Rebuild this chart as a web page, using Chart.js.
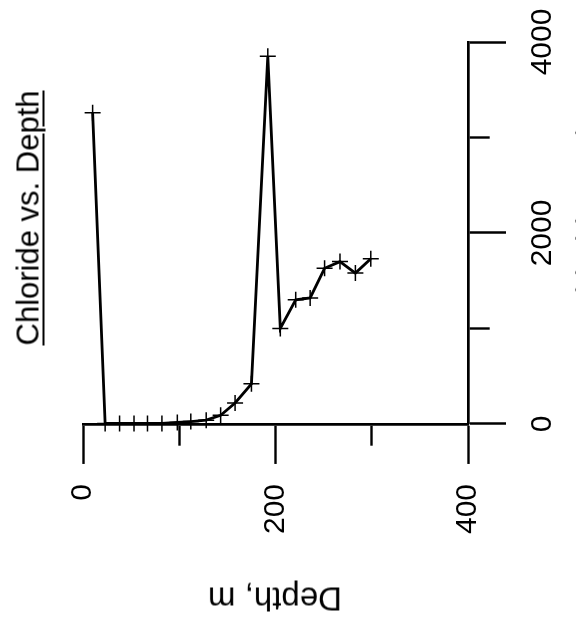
<!DOCTYPE html>
<html>
<head>
<meta charset="utf-8">
<script src="https://cdn.jsdelivr.net/npm/chart.js@4.4.1/dist/chart.umd.min.js"></script>
<style>
    html, body { margin: 0; padding: 0; background: #fff; }
    #wrap { position: relative; width: 576px; height: 621px; overflow: hidden; }
    .lbl {
        position: absolute;
        font-family: 'Liberation Sans', Arial, sans-serif;
        font-size: 31px;
        line-height: 31px;
        white-space: nowrap;
        color: #000;
    }
    #title {
        left: 28px; top: 218px;
        transform: translate(-50%, -50%) rotate(-90deg);
        text-decoration: underline;
        text-decoration-thickness: 2px;
        text-underline-offset: 4px;
    }
    #xtitle {
        left: 275px; top: 599px;
        font-size: 33px;
        line-height: 33px;
        transform: translate(-50%, -50%) rotate(180deg);
    }
    #ytitle {
        left: 588px; top: 215px;
        transform: translate(-50%, -50%) rotate(-90deg);
    }
</style>
</head>
<body>
<div id="wrap">
    <canvas id="grafico" width="576" height="621"></canvas>
    <div class="lbl" id="title">Chloride vs. Depth</div>
    <div class="lbl" id="xtitle">Depth, m</div>
    <div class="lbl" id="ytitle">Chloride, mg/L</div>
</div>
<script>
// Dados
const depth = [10, 23, 38, 53, 67, 82, 98, 112, 128, 143, 158, 175, 192, 205, 221, 236, 251, 267, 283, 299];
const chloride = [3260, 5, 5, 5, 5, 5, 15, 25, 40, 90, 220, 420, 3850, 1000, 1300, 1320, 1630, 1700, 1580, 1730];

const depthTicks = [0, 100, 200, 300, 400];
const depthLabels = ['0', '', '200', '', '400'];
const chlorideTicks = [0, 1000, 2000, 3000, 4000];
const chlorideLabels = ['0', '', '2000', '', '4000'];

const fonte = "'Liberation Sans', Arial, sans-serif";

// marcas menores ficam mais curtas com um traço tracejado
function tickDash(ctx, labels) {
    let i = ctx.index;
    return labels[i] === '' ? [20, 200] : [];
}

new Chart(document.getElementById('grafico'), {
    type: 'line',
    data: {
        datasets: [
            {
                data: depth.map((d, i) => ({ x: d, y: chloride[i] })),
                borderColor: '#000',
                borderWidth: 2.8,
                tension: 0,
                pointStyle: 'cross',
                pointRadius: 8,
                pointBorderWidth: 1.5,
                pointBorderColor: '#000',
                clip: false
            }
        ]
    },
    options: {
        responsive: false,
        animation: false,
        events: [],
        layout: {
            padding: { left: 83, top: 42, right: 16, bottom: 67 }
        },
        plugins: {
            legend: { display: false },
            tooltip: { enabled: false }
        },
        scales: {
            x: {
                type: 'linear',
                position: 'bottom',
                min: 0,
                max: 400,
                afterBuildTicks: s => { s.ticks = depthTicks.map(v => ({ value: v })); },
                border: { color: '#000', width: 2.7 },
                grid: {
                    drawOnChartArea: false,
                    tickLength: 40,
                    tickColor: '#000',
                    tickWidth: 2.4,
                    tickBorderDash: ctx => tickDash(ctx, depthLabels)
                },
                ticks: {
                    minRotation: 90,
                    maxRotation: 90,
                    padding: 20,
                    color: '#000',
                    font: { family: fonte, size: 30 },
                    callback: (v, i) => depthLabels[i]
                }
            },
            y: {
                type: 'linear',
                position: 'right',
                min: 0,
                max: 4000,
                afterBuildTicks: s => { s.ticks = chlorideTicks.map(v => ({ value: v })); },
                border: { color: '#000', width: 2.7 },
                grid: {
                    drawOnChartArea: false,
                    tickLength: 38,
                    tickColor: '#000',
                    tickWidth: 2.4,
                    tickBorderDash: ctx => tickDash(ctx, chlorideLabels)
                },
                ticks: {
                    minRotation: 90,
                    maxRotation: 90,
                    crossAlign: 'center',
                    padding: 3,
                    color: '#000',
                    font: { family: fonte, size: 30, lineHeight: 1.6 },
                    callback: (v, i) => chlorideLabels[i]
                }
            }
        }
    }
});
</script>
</body>
</html>
